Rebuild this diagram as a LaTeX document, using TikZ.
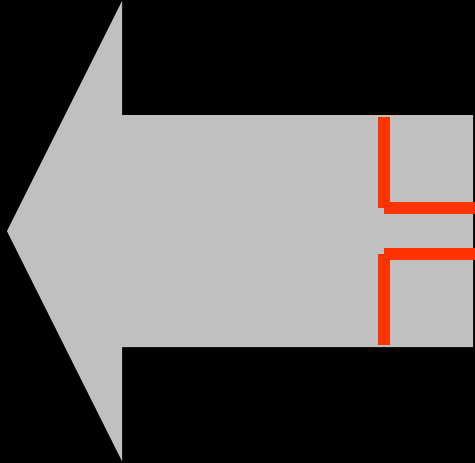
\documentclass[tikz,border=0pt]{standalone}
\definecolor{arrowgray}{HTML}{C0C0C0}
\definecolor{markred}{HTML}{FF3300}
\tikzset{bar/.style={fill=markred, draw=none}}
\begin{document}
\begin{tikzpicture}[x=1pt,y=-1pt]
\fill[black] (0,0) rectangle (475,463);
\useasboundingbox (0,0) rectangle (475,463);
% arrow
\fill[arrowgray] (7,231) -- (122,1) -- (122,115) -- (473,115) -- (473,347) -- (122,347) -- (122,461) -- cycle;
% upper red bracket
\fill[bar] (378,117) rectangle (390,208);
\fill[bar] (384,202) rectangle (475,214);
% lower red bracket
\fill[bar] (384,247.5) rectangle (475,259.5);
\fill[bar] (378,253.5) rectangle (390,344.5);
\end{tikzpicture}
\end{document}
